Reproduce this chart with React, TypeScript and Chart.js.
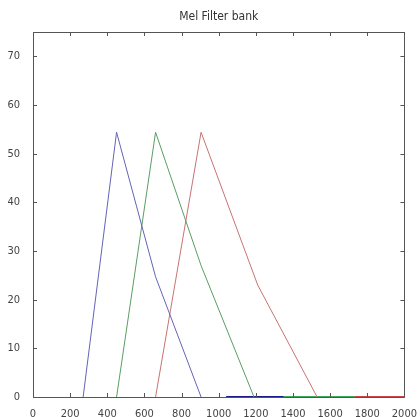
import React, { useEffect, useRef } from "react";
import { Chart, registerables } from "chart.js";

Chart.register(...registerables);

const TITLE = "Mel Filter bank";
const X_TICKS = [0, 200, 400, 600, 800, 1000, 1200, 1400, 1600, 1800, 2000];
const Y_TICKS = [0, 10, 20, 30, 40, 50, 60, 70];

// filter shapes: frequency (Hz) and amplitude
const blueX = [270, 450, 660, 905];
const blueY = [0, 54.4, 24.7, 0];
const greenX = [450, 660, 905, 1190];
const greenY = [0, 54.4, 27, 0];
const redX = [660, 905, 1210, 1530];
const redY = [0, 54.4, 23, 0];

// zero-valued tails visible along the x axis
const blueZeroX = [1040, 1350];
const greenZeroX = [1350, 1730];
const redZeroX = [1730, 2000];

const pts = (xs: number[], ys: number[]) => xs.map((x, i) => ({ x, y: ys[i] }));
const zeros = (xs: number[]) => xs.map((x) => ({ x, y: 0 }));

const FONT = "'Liberation Sans Narrow', 'DejaVu Sans Condensed', 'Liberation Sans', sans-serif";

const boxPlugin = {
  id: "matlabBox",
  afterDatasetsDraw(chart: any) {
    const { ctx, chartArea } = chart;
    const { left, right, top, bottom } = chartArea;
    const xs = chart.scales.x;
    const ys = chart.scales.y;
    ctx.save();
    ctx.strokeStyle = "#555";
    ctx.lineWidth = 1;
    ctx.beginPath();
    ctx.rect(Math.round(left) + 0.5, Math.round(top) + 0.5, Math.round(right - left), Math.round(bottom - top));
    ctx.stroke();
    ctx.beginPath();
    const t = 4;
    X_TICKS.forEach((v) => {
      const px = Math.round(xs.getPixelForValue(v)) + 0.5;
      ctx.moveTo(px, bottom);
      ctx.lineTo(px, bottom - t);
      ctx.moveTo(px, top);
      ctx.lineTo(px, top + t);
    });
    Y_TICKS.forEach((v) => {
      const py = Math.round(ys.getPixelForValue(v)) + 0.5;
      ctx.moveTo(left, py);
      ctx.lineTo(left + t, py);
      ctx.moveTo(right, py);
      ctx.lineTo(right - t, py);
    });
    ctx.stroke();
    // title centred over the plot box
    ctx.fillStyle = "#333";
    ctx.font = "12px " + FONT;
    ctx.textAlign = "center";
    ctx.textBaseline = "middle";
    ctx.fillText(TITLE, (left + right) / 2, 17);
    ctx.restore();
  },
};

export default function App() {
  const ref = useRef<HTMLCanvasElement>(null);
  useEffect(() => {
    document.body.style.margin = "0";
    const base = { borderWidth: 1, pointRadius: 0, tension: 0, fill: false };
    const chart = new Chart(ref.current as HTMLCanvasElement, {
      type: "line",
      data: {
        datasets: [
          { ...base, data: pts(blueX, blueY), borderColor: "#6464b4" },
          { ...base, data: pts(greenX, greenY), borderColor: "#5a9e64" },
          { ...base, data: pts(redX, redY), borderColor: "#c87373" },
          { ...base, borderWidth: 2, data: zeros(blueZeroX), borderColor: "#1a1a8c" },
          { ...base, borderWidth: 2, data: zeros(greenZeroX), borderColor: "#3caa5a" },
          { ...base, borderWidth: 2, data: zeros(redZeroX), borderColor: "#c84646" },
        ],
      },
      options: {
        animation: false,
        responsive: false,
        layout: { padding: { left: 0, right: 13, top: 32, bottom: 0 } },
        plugins: {
          legend: { display: false },
          tooltip: { enabled: false },
          title: { display: false },
        },
        scales: {
          x: {
            type: "linear",
            min: 0,
            max: 2000,
            afterBuildTicks: (s: any) => {
              s.ticks = X_TICKS.map((v) => ({ value: v }));
            },
            afterFit: (s: any) => {
              s.height = 20;
            },
            grid: { display: false },
            border: { display: false },
            ticks: {
              color: "#444",
              padding: 3,
              maxRotation: 0,
              autoSkip: false,
              font: { family: FONT, size: 11 },
              callback: (v: any) => String(v),
            },
          },
          y: {
            type: "linear",
            min: 0,
            max: 75,
            afterBuildTicks: (s: any) => {
              s.ticks = Y_TICKS.map((v) => ({ value: v }));
            },
            afterFit: (s: any) => {
              s.width = 33;
            },
            grid: { display: false },
            border: { display: false },
            ticks: {
              color: "#444",
              padding: 5,
              autoSkip: false,
              font: { family: FONT, size: 11 },
              callback: (v: any) => String(v),
            },
          },
        },
      },
      plugins: [boxPlugin],
    });
    return () => chart.destroy();
  }, []);
  return <canvas ref={ref} width={420} height={417} style={{ display: "block" }} />;
}
